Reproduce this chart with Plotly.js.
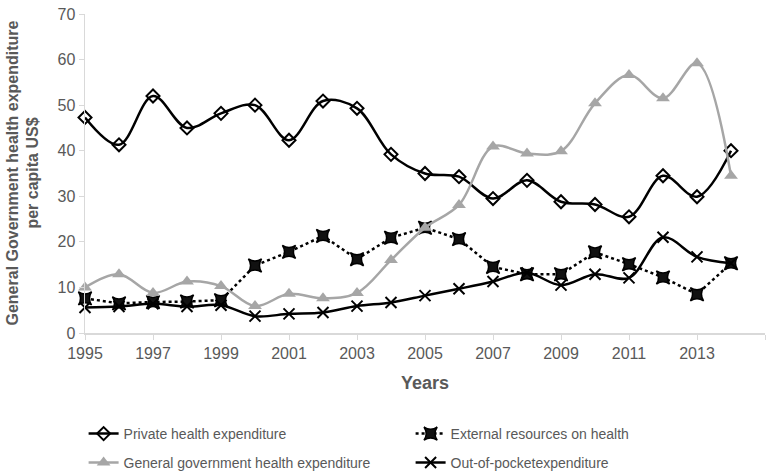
<!DOCTYPE html>
<html>
<head>
<meta charset="utf-8">
<script src="https://cdn.plot.ly/plotly-3.0.1.min.js"></script>
<style>html,body{margin:0;padding:0;background:#fff;}#chart{width:777px;height:471px;}</style>
</head>
<body>
<div id="chart"></div>
<script>
const years = [1995,1996,1997,1998,1999,2000,2001,2002,2003,2004,2005,2006,2007,2008,2009,2010,2011,2012,2013,2014];
const privateHealth = [47.3,41.3,52.0,45.0,48.2,50.0,42.3,50.9,49.3,39.2,35.0,34.3,29.5,33.5,28.8,28.2,25.5,34.5,29.9,40.0];
const externalRes = [7.6,6.5,6.8,6.9,7.2,14.8,17.8,21.3,16.2,20.9,23.1,20.6,14.5,12.9,12.9,17.7,15.1,12.2,8.5,15.3];
const govHealth = [10.0,12.9,8.8,11.3,10.3,5.9,8.6,7.6,8.8,16.0,23.1,28.1,40.9,39.4,39.9,50.4,56.6,51.5,59.2,34.5];
const outOfPocket = [5.6,5.8,6.4,5.8,6.1,3.7,4.2,4.5,5.9,6.7,8.2,9.7,11.3,13.2,10.5,12.9,12.1,21.0,16.7,15.3];
const names = ["Private health expenditure","External resources on health","General government health expenditure","Out-of-pocketexpenditure"];
const yTicks = [0,10,20,30,40,50,60,70];

const gray = '#595959';
const traces = [
  {x: years, y: privateHealth, name: names[0], mode: 'lines+markers', legend: 'legend',
   line: {color: '#000', width: 2.5, shape: 'spline', smoothing: 1},
   marker: {symbol: 'diamond-open', size: 10, color: '#000', line: {width: 2, color: '#000'}}, cliponaxis: false},
  {x: years, y: externalRes, name: names[1], mode: 'lines+markers', legend: 'legend',
   line: {color: '#000', width: 2.5, dash: 'dot'},
   marker: {symbol: 'star-square', size: 12, color: '#111', line: {width: 1.5, color: '#000'}}, cliponaxis: false},
  {x: years, y: govHealth, name: names[2], mode: 'lines+markers', legend: 'legend2',
   line: {color: '#a6a6a6', width: 2.5, shape: 'spline', smoothing: 1},
   marker: {symbol: 'triangle-up', size: 12, color: '#a6a6a6'}, cliponaxis: false},
  {x: years, y: outOfPocket, name: names[3], mode: 'lines+markers', legend: 'legend2',
   line: {color: '#000', width: 2.5, shape: 'spline', smoothing: 1},
   marker: {symbol: 'x-thin-open', size: 11, color: '#000', line: {width: 2, color: '#000'}}, cliponaxis: false}
];

const legendCommon = {orientation: 'h', xref: 'container', yref: 'container', x: 0.1076,
  xanchor: 'left', yanchor: 'top', entrywidth: 282, entrywidthmode: 'pixels',
  font: {size: 14, color: gray}};

const layout = {
  width: 777, height: 471,
  margin: {l: 85, r: 12, t: 14, b: 138},
  paper_bgcolor: '#fff', plot_bgcolor: '#fff',
  font: {family: 'Arial, Liberation Sans, sans-serif', color: gray},
  showlegend: true,
  xaxis: {range: [1995, 2015], tick0: 1995, dtick: 2, showgrid: false, zeroline: false,
          showline: true, linecolor: '#d9d9d9', linewidth: 1.5, ticks: 'outside', ticklen: 5,
          tickcolor: '#d9d9d9', tickfont: {size: 16, color: gray}, automargin: false},
  yaxis: {range: [0, 70], tickvals: yTicks, showgrid: false, zeroline: false,
          showline: true, linecolor: '#d9d9d9', linewidth: 1.5, ticks: 'outside', ticklen: 5,
          tickcolor: '#d9d9d9', tickfont: {size: 16, color: gray}, automargin: false},
  legend: Object.assign({}, legendCommon, {y: 0.1125}),
  legend2: Object.assign({}, legendCommon, {y: 0.051}),
  annotations: [
    {text: '<b>General Government health expenditure<br>per capita US$</b>', textangle: -90,
     xref: 'paper', yref: 'paper', x: (22-85)/680, y: 0.5, xanchor: 'center', yanchor: 'middle',
     showarrow: false, font: {size: 16, color: gray}},
    {text: '<b>Years</b>', xref: 'paper', yref: 'paper', x: (425-85)/680, y: (333-383)/319,
     xanchor: 'center', yanchor: 'middle', showarrow: false, font: {size: 18, color: gray}}
  ]
};
Plotly.newPlot('chart', traces, layout, {displayModeBar: false, staticPlot: true});
</script>
</body>
</html>
